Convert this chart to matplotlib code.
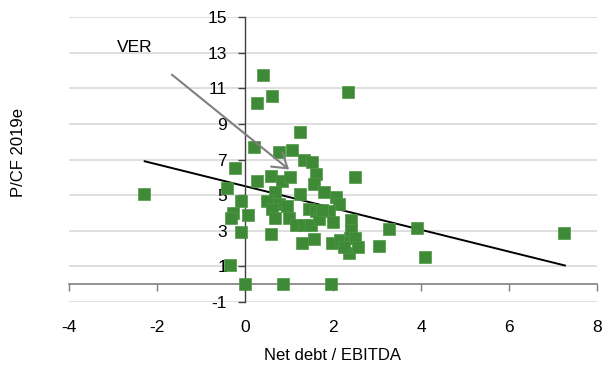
import matplotlib
matplotlib.use("Agg")
import matplotlib.pyplot as plt
import numpy as np

plt.rcParams['font.family'] = ['Liberation Sans', 'DejaVu Sans']
plt.rcParams['axes.unicode_minus'] = False

# net debt / EBITDA vs P/CF 2019e
net_debt = [-2.30, 0.41, 0.28, 0.62, 2.33, 1.25, 0.20, -0.23, -0.42, -0.09,
            -0.28, -0.32, 0.06, -0.09, -0.34, 0.00, 0.87, 1.95, 0.28, 0.58,
            0.85, 1.03, 0.59, 0.78, 1.06, 1.34, 1.53, 1.61, 1.57, 1.80,
            2.06, 2.14, 2.50, 3.27, 3.04, 3.92, 4.10, 7.25, 0.69, 0.51,
            0.78, 0.95, 0.61, 0.68, 1.00, 1.15, 1.26, 1.34, 1.50, 1.46,
            1.62, 1.68, 1.91, 1.99, 1.29, 1.57, 1.97, 2.15, 2.38, 2.40,
            2.40, 2.50, 2.36, 2.57, 2.25, 1.74]
pcf = [5.05, 11.75, 10.20, 10.55, 10.80, 8.55, 7.68, 6.55, 5.38, 4.65,
       4.00, 3.70, 3.86, 2.92, 1.10, 0.03, 0.03, 0.03, 5.80, 6.10,
       5.80, 6.00, 2.83, 7.43, 7.56, 6.96, 6.86, 6.20, 5.63, 5.17,
       4.90, 4.52, 5.99, 3.08, 2.13, 3.17, 1.51, 2.86, 5.17, 4.66,
       4.52, 4.38, 4.20, 3.72, 3.72, 3.35, 5.05, 3.30, 3.35, 4.20,
       4.10, 3.67, 4.10, 3.47, 2.32, 2.53, 2.30, 2.50, 2.60, 3.62,
       3.05, 2.60, 1.75, 2.07, 2.07, 4.15]

trend_x = [-2.28, 7.27]
trend_y = [6.90, 1.05]

arrow_from = (-1.71, 11.86)
arrow_to = (1.05, 6.34)

x_ticks = [-4, -2, 0, 2, 4, 6, 8]
y_ticks = [-1, 1, 3, 5, 7, 9, 11, 13, 15]

fig = plt.figure(figsize=(6.03, 3.65), dpi=100)
ax = fig.add_axes([69 / 603, 1 - 302 / 365, 528 / 603, 285 / 365])

ax.set_xlim(-4, 8)
ax.set_ylim(-1, 15)

for yv in y_ticks:
    ax.axhline(yv, color='#d9d9d9', lw=1.2, zorder=0)

ax.plot(trend_x, trend_y, color='black', lw=1.4, zorder=2)
ax.plot(net_debt, pcf, ls='none', marker='s', ms=9.3, color='#3e8a36',
        mec='#4f9846', mew=0.5, zorder=3)

ax.annotate('', xy=arrow_to, xytext=arrow_from,
            arrowprops=dict(arrowstyle='->,head_length=1.0,head_width=0.65',
                            color='#7f7f7f', lw=1.5, mutation_scale=10),
            zorder=4)
ax.text(-2.92, 13.3, 'VER', fontsize=12.5, ha='left', va='center')

# y axis sits on x = 0
for s in ['top', 'right', 'bottom']:
    ax.spines[s].set_visible(False)
ax.spines['left'].set_position(('data', 0))
ax.spines['left'].set_color('#404040')
ax.spines['left'].set_linewidth(1.0)
ax.set_yticks(y_ticks)
ax.tick_params(axis='y', direction='out', length=5, width=1.0, color='#404040',
               labelsize=12.5, pad=8)

ax.set_xticks(x_ticks)
ax.tick_params(axis='x', length=0, labelsize=12.5, pad=13)

# horizontal axis line at y = 0
sec = ax.secondary_xaxis(1 / 16)
sec.set_xticks(x_ticks)
sec.tick_params(axis='x', direction='out', length=5, width=1.0, color='#7f7f7f',
                labelbottom=False)
sec.spines['bottom'].set_color('#7f7f7f')
sec.spines['bottom'].set_linewidth(1.2)

fig.text(333 / 603, 1 - 356 / 365, 'Net debt / EBITDA', fontsize=12,
         ha='center', va='center')
fig.text(19 / 603, 1 - 152 / 365, 'P/CF 2019e', fontsize=12, rotation=90,
         ha='center', va='center')

fig.savefig('out.png', dpi=100)
